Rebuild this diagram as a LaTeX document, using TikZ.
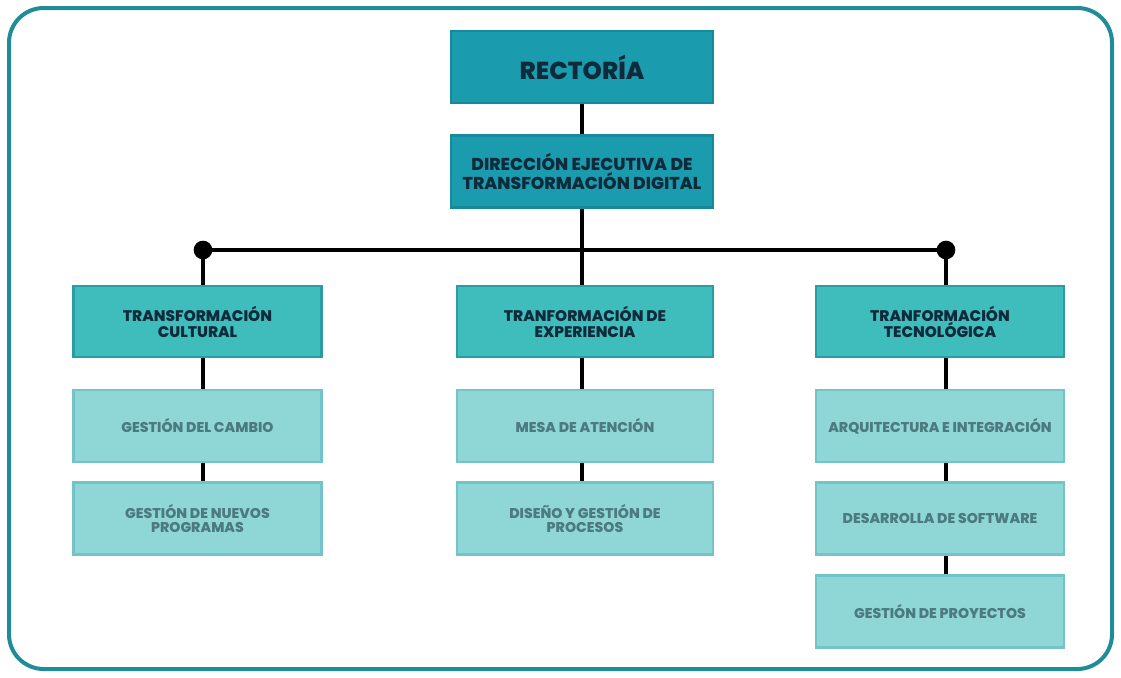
\documentclass[tikz,border=0pt]{standalone}
\usepackage{fontspec}
\setmainfont{Poppins}[BoldFont={Poppins ExtraBold}]
\definecolor{frame}{HTML}{1F8C98}
\definecolor{topfill}{HTML}{1B9BAE}
\definecolor{topline}{HTML}{16899A}
\definecolor{midfill}{HTML}{3EBDBC}
\definecolor{midline}{HTML}{2A9CA3}
\definecolor{subfill}{HTML}{8ED7D6}
\definecolor{subline}{HTML}{73C3CA}
\definecolor{toptext}{HTML}{0E2A3B}
\definecolor{subtext}{HTML}{4C7A80}
\begin{document}
\begin{tikzpicture}[x=0.75pt,y=-0.75pt,
  topbox/.style={draw=topline,fill=topfill,line width=2.2pt,minimum width=262*0.75pt,minimum height=72*0.75pt,inner sep=0pt,align=center,text=toptext,font=\bfseries\fontsize{12.9}{11.5}\selectfont},
  tierbox/.style={draw=midline,fill=midfill,line width=2.2pt,minimum height=71*0.75pt,inner sep=0pt,align=center,text=toptext,font=\bfseries\fontsize{11.5}{12}\selectfont},
  subbox/.style={draw=subline,fill=subfill,line width=2.2pt,minimum height=72*0.75pt,inner sep=0pt,align=center,text=subtext,font=\bfseries\fontsize{10.6}{11}\selectfont},
  conn/.style={draw=black,line width=3.6pt},
  dot/.style={circle,fill=black,inner sep=0pt,minimum size=14pt}]
\useasboundingbox (0,0) rectangle (1121,678);
\draw[frame,line width=3pt,rounded corners=26pt] (9,8) rectangle (1112,669);
% top
\node[topbox,font=\bfseries\fontsize{18.4}{18}\selectfont] (rect) at (582,67) {RECTORÍA};
\node[topbox] (dir) at (582,171.5) {DIRECCIÓN EJECUTIVA DE\\TRANSFORMACIÓN DIGITAL};
% tier
\node[tierbox,minimum width=248*0.75pt] (tc) at (197.5,321.5) {TRANSFORMACIÓN\\CULTURAL};
\node[tierbox,minimum width=256*0.75pt] (te) at (585,321.5) {TRANFORMACIÓN DE\\EXPERIENCIA};
\node[tierbox,minimum width=248*0.75pt] (tt) at (940,321.5) {TRANFORMACIÓN\\TECNOLÓGICA};
% subs
\node[subbox,minimum width=248*0.75pt] (c1) at (197.5,426) {GESTIÓN DEL CAMBIO};
\node[subbox,minimum width=248*0.75pt] (c2) at (197.5,518.5) {GESTIÓN DE NUEVOS\\PROGRAMAS};
\node[subbox,minimum width=256*0.75pt] (e1) at (585,426) {MESA DE ATENCIÓN};
\node[subbox,minimum width=256*0.75pt] (e2) at (585,518.5) {DISEÑO Y GESTIÓN DE\\PROCESOS};
\node[subbox,minimum width=248*0.75pt] (t1) at (940,426) {ARQUITECTURA E INTEGRACIÓN};
\node[subbox,minimum width=248*0.75pt] (t2) at (940,518.5) {DESARROLLA DE SOFTWARE};
\node[subbox,minimum width=248*0.75pt] (t3) at (940,611.5) {GESTIÓN DE PROYECTOS};
% coordinates
\coordinate (cl) at (203,250);
\coordinate (cm) at (582,250);
\coordinate (cr) at (946,250);
\coordinate (xl) at (203,0);
\coordinate (xm) at (582,0);
\coordinate (xr) at (946,0);
\draw[conn] (rect.south -| xm) -- (dir.north -| xm);
\draw[conn] (dir.south -| xm) -- (te.north -| xm);
\draw[conn] (cl) -- (cr);
\draw[conn] (cl) -- (tc.north -| xl);
\draw[conn] (cr) -- (tt.north -| xr);
\node[dot] (dl) at (cl) {};
\node[dot] (dr) at (cr) {};
\draw[conn] (tc.south -| xl) -- (c1.north -| xl);
\draw[conn] (c1.south -| xl) -- (c2.north -| xl);
\draw[conn] (te.south -| xm) -- (e1.north -| xm);
\draw[conn] (e1.south -| xm) -- (e2.north -| xm);
\draw[conn] (tt.south -| xr) -- (t1.north -| xr);
\draw[conn] (t1.south -| xr) -- (t2.north -| xr);
\draw[conn] (t2.south -| xr) -- (t3.north -| xr);
\end{tikzpicture}
\end{document}
